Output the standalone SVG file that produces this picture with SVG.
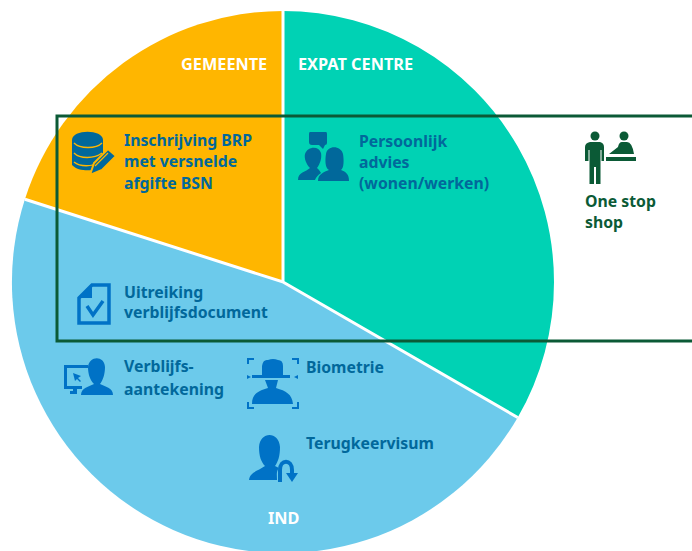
<svg xmlns="http://www.w3.org/2000/svg" width="692" height="551" viewBox="0 0 692 551">
<style>
text{font-family:"Noto Sans","Liberation Sans",sans-serif;font-weight:700;font-size:15.8px}
.b{fill:#01689b}
.g{fill:#0b5a36}
text.w{fill:#fff;font-size:16.3px}
.i{fill:#0072c6}
.d{fill:#01689b}
.sep{fill:none;stroke:#fff;stroke-width:3}
</style>
<rect width="692" height="551" fill="#fff"/>
<g id="pie">
<path d="M283 282L283 11A271 271 0 0 1 517.7 417.5Z" fill="#00d2b4"/>
<path d="M283 282L24.9 199.3A271 271 0 0 1 283 11Z" fill="#ffb600"/>
<path d="M283 282L517.7 417.5A271 271 0 0 1 24.9 199.3Z" fill="#6ccaeb"/>
<path class="sep" d="M283 11V282L24.9 199.3M283 282L517.7 417.5"/>
</g>
<g id="connectors"><path d="M692 116H57V341H692" fill="none" stroke="#0b5a36" stroke-width="3"/></g>
<g id="gemeente"><text class="w" x="181" y="70">GEMEENTE</text></g>
<g id="expat"><text class="w" x="298" y="70">EXPAT CENTRE</text></g>
<g id="ind"><text class="w" x="268" y="524">IND</text></g>
<g id="brp">
<path class="d" d="M72 140C72 129 103 129 103 140V165C103 170 80 174 72 165Z"/>
<path d="M74 143C80 149 96 149 102 143M74 153C80 159 94 159 102 153M74 162C80 167 92 167 100 162" fill="none" stroke="#ffb600" stroke-width="1.4"/>
<path class="d" stroke="#ffb600" stroke-width="2" d="M90 175L94 163L108 149L116 156L102 170Z"/>
<path d="M95 166L108 153" stroke="#ffb600" stroke-width="1.2"/>
<text class="b" x="124" y="146">Inschrijving BRP</text>
<text class="b" x="124" y="167">met versnelde</text>
<text class="b" x="124" y="189">afgifte BSN</text>
</g>
<g id="advies">
<path class="d" d="M310 132H326Q327 132 327 134V143Q327 145 325 145L323 149L319 145H312Q309 145 309 142V134Q309 132 310 132Z"/>
<path class="d" d="M298 180C298 172 306 172 310 168C306 164 304 158 305 154C308 146 319 146 321 153C322 158 320 164 317 168C319 170 320 171 321 173C318 175 316 177 315 180Z"/>
<path class="d" d="M318 181C318 174 324 172 329 170C325 168 325 160 326 154C327 145 341 145 343 154C344 160 344 168 341 170C346 172 349 174 349 181Z"/>
<text class="b" x="359" y="147">Persoonlijk</text>
<text class="b" x="359" y="168">advies</text>
<text class="b" x="359" y="189">(wonen/werken)</text>
</g>
<g id="onestop">
<circle class="g" cx="595" cy="136" r="4.5"/>
<path class="g" d="M585 147Q585 143 590 142H600Q604 143 604 147V161H601.5V150H600.5V184H596V167H594V184H589.5V150H588.5V161H585Z"/>
<circle class="g" cx="624" cy="136" r="4.5"/>
<path class="g" d="M609 154L618 147Q619 142 622 142H627Q632 142 634 154Z"/>
<rect class="g" x="606" y="157" width="30" height="4"/>
<text class="g" x="585" y="207">One stop</text>
<text class="g" x="585" y="228">shop</text>
</g>
<g id="uitreiking">
<path d="M92 285H109V323H79V298Z" fill="none" stroke="#0072c6" stroke-width="3.5"/>
<path class="i" d="M92 285V298H79Z"/>
<path d="M87 306L93 315L103 301" fill="none" stroke="#0072c6" stroke-width="3.5"/>
<text class="b" x="124" y="298">Uitreiking</text>
<text class="b" x="124" y="318">verblijfsdocument</text>
</g>
<g id="aantekening">
<path class="i" fill-rule="evenodd" d="M64 365H88V368H67V386H82V389H77V394H70V391H73V389H64ZM73 373L81 376L78 378L81 381L80 382L77 379L75 381Z"/>
<path class="i" d="M81 395C81 388 88 387 94 384C90 380 88 374 88 367C89 356 104 355 105 367C105 374 103 380 100 384C106 387 113 388 113 395Z"/>
<text class="b" x="124" y="372">Verblijfs-</text>
<text class="b" x="124" y="395">aantekening</text>
</g>
<g id="biometrie">
<path d="M248 364V359H254M292 359H298V364M248 402V408H254M292 408H298V402" fill="none" stroke="#0072c6" stroke-width="2"/>
<path class="i" d="M262 375V366Q263 359 268 360Q273 358 278 360Q283 360 283 366V375ZM247 375L251 377L247 379ZM298 375V379L294 377Z"/>
<rect class="i" x="252" y="375" width="38" height="3"/>
<path class="i" d="M252 404C252 394 258 391 268 388L265 380H278L276 388C286 391 292 394 293 404Z"/>
<text class="b" x="306" y="373">Biometrie</text>
</g>
<g id="terugkeer">
<path class="i" d="M249 480C250 472 258 471 265 466C261 462 259 456 259 447C260 431 279 431 280 447C280 456 278 462 275 466L279 468C276 471 277 476 277 480Z"/>
<path d="M280 482V470C280 459 292 459 292 470V476" fill="none" stroke="#0072c6" stroke-width="4"/>
<path class="i" d="M286 473H298L292 482Z"/>
<text class="b" x="306" y="449">Terugkeervisum</text>
</g>
</svg>
